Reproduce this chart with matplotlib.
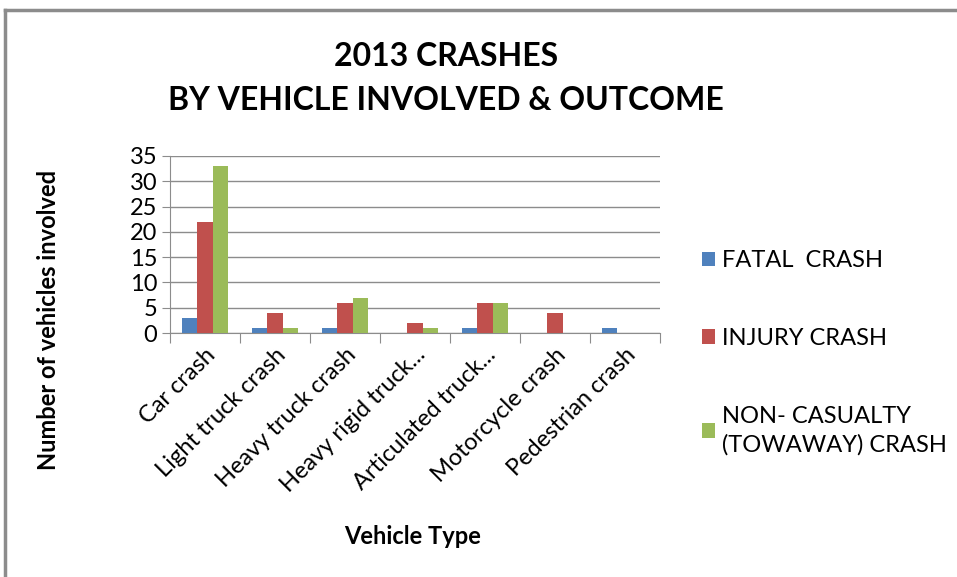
import matplotlib.pyplot as plt
from matplotlib.lines import Line2D
import numpy as np

plt.rcParams['font.family'] = ['Lato', 'DejaVu Sans']

categories = ['Car crash', 'Light truck crash', 'Heavy truck crash',
              'Heavy rigid truck...', 'Articulated truck...',
              'Motorcycle crash', 'Pedestrian crash']
fatal = [3, 1, 1, 0, 1, 0, 1]
injury = [22, 4, 6, 2, 6, 4, 0]
non_casualty = [33, 1, 7, 1, 6, 0, 0]
series_names = ['FATAL  CRASH', 'INJURY CRASH', 'NON- CASUALTY\n(TOWAWAY) CRASH']
colors = ['#4F81BD', '#C0504D', '#9BBB59']

W, H = 957, 577
fig = plt.figure(figsize=(W / 100, H / 100), dpi=100)
left, right, bottom, top = 170, 660, 333, 156
ax = fig.add_axes([left / W, 1 - bottom / H, (right - left) / W, (bottom - top) / H])

x = np.arange(len(categories))
bw = 0.22
for i, (vals, name, c) in enumerate(zip([fatal, injury, non_casualty], series_names, colors)):
    ax.bar(x + (i - 1) * bw, vals, bw, color=c, label=name, zorder=3)

ax.set_xlim(-0.5, len(categories) - 0.5)
ax.set_ylim(0, 35)
ax.set_yticks(range(0, 36, 5))
ax.yaxis.grid(True, color='#8c8c8c', linewidth=1, zorder=0)

# category boundary ticks on x axis
ax.set_xticks(np.arange(-0.5, len(categories), 1.0))
ax.set_xticklabels([])
ax.set_xticks(x, minor=True)
ax.set_xticklabels(categories, minor=True, rotation=45, ha='right',
                   rotation_mode='anchor', fontsize=17)
ax.tick_params(axis='x', which='minor', length=0, pad=8)
ax.tick_params(axis='x', which='major', length=7, color='#8c8c8c')
ax.tick_params(axis='y', length=6, color='#8c8c8c', labelsize=17, pad=3)

for s in ['top', 'right']:
    ax.spines[s].set_visible(False)
for s in ['left', 'bottom']:
    ax.spines[s].set_color('#8c8c8c')

ax.set_ylabel('Number of vehicles involved', fontsize=17, fontweight='bold')
ax.yaxis.set_label_coords((60 - left) / (right - left), (bottom - 320) / (bottom - top))
fig.text(413 / W, 1 - 536 / H, 'Vehicle Type', fontsize=17, fontweight='bold',
         ha='center', va='center')

fig.text(446 / W, 1 - 56 / H, '2013 CRASHES', fontsize=23, fontweight='bold',
         ha='center', va='center')
fig.text(446 / W, 1 - 100 / H, 'BY VEHICLE INVOLVED & OUTCOME', fontsize=23,
         fontweight='bold', ha='center', va='center')

leg = fig.legend(loc='upper left', bbox_to_anchor=(681 / W, 1 - 229 / H),
                 frameon=False, fontsize=17, labelspacing=2.4,
                 handlelength=0.55, handleheight=0.55, handletextpad=0.3)
for t in leg.get_texts():
    t.set_linespacing(1.4)

# chart border (left and top edges visible)
fig.add_artist(Line2D([5 / W, 5 / W], [0, 1 - 10 / H], color='#8c8c8c', linewidth=2.5))
fig.add_artist(Line2D([5 / W, 1], [1 - 10 / H, 1 - 10 / H], color='#8c8c8c', linewidth=2.5))

fig.savefig('out.png', dpi=100, facecolor='white')
